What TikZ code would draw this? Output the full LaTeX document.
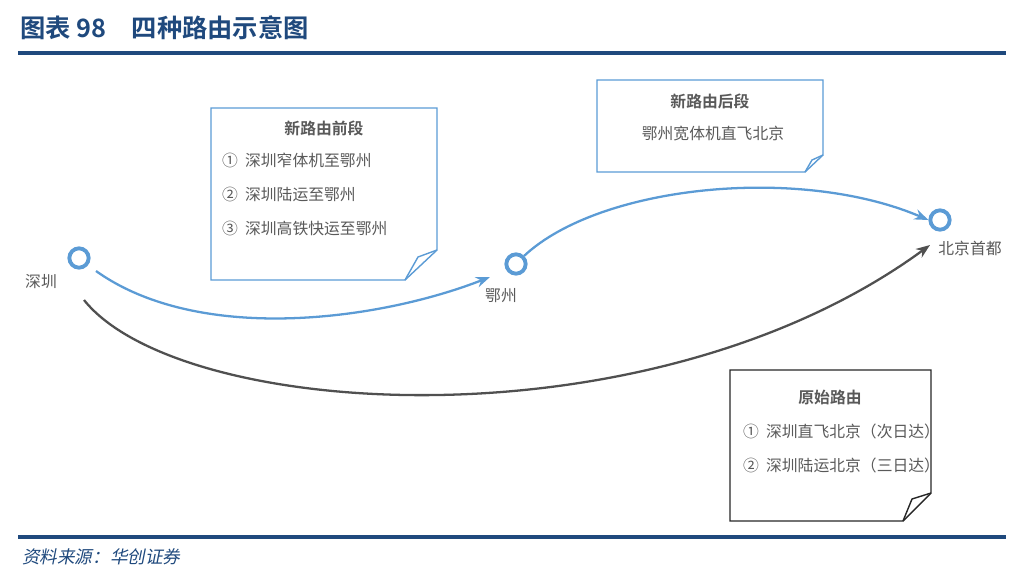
\documentclass[tikz,border=0pt]{standalone}
\usepackage{fontspec}
\setmainfont{Noto Sans CJK SC}
\newfontfamily\cjkbold{Noto Sans CJK SC Bold}
\newfontfamily\cjkslant[FakeSlant=0.2]{Noto Sans CJK SC}
\usetikzlibrary{arrows.meta}
\definecolor{myblue}{RGB}{91,155,213}
\definecolor{mynavy}{RGB}{31,73,125}
\definecolor{mygray}{RGB}{80,80,80}
\definecolor{mytext}{RGB}{89,89,89}

\tikzset{
    stopnode/.style={circle, draw=myblue, line width=2.2pt, minimum size=11pt, inner sep=0pt},
    city/.style={font=\small, text=mytext},
    line/.style={font=\small, text=mytext, anchor=west},
    head/.style={font=\small\cjkbold, text=mytext},
    route/.style={line width=1.3pt, -{Stealth[length=8pt,width=6pt]}},
}

\begin{document}
\begin{tikzpicture}[x=0.02cm, y=-0.02cm]
    \useasboundingbox (0, 0) rectangle (1024, 586);
    % title and rules
    \node[anchor=west, text=mynavy, font=\Large\cjkbold] (title) at (14, 28) {图表 98\quad 四种路由示意图};
    \draw[mynavy, line width=2pt] (18, 53) -- (1006, 53);
    \draw[mynavy, line width=2pt] (18, 537) -- (1006, 537);
    \node[anchor=west, text=mynavy, font=\cjkslant] (src) at (16, 557) {资料来源：华创证券};
    % notes
    \begin{scope}[draw=myblue, line width=0.8pt]
        \draw (211, 108) -- (437, 108) -- (437, 250) -- (405, 280) -- (211, 280) -- cycle;
        \draw (437, 250) -- (418, 257) -- (405, 280);
        \draw (597, 80) -- (823, 80) -- (823, 155) -- (805, 172) -- (597, 172) -- cycle;
        \draw (823, 155) -- (812, 160) -- (805, 172);
    \end{scope}
    \begin{scope}[draw=black!85, line width=0.8pt]
        \draw (730, 370) -- (931, 370) -- (931, 493) -- (903, 521) -- (730, 521) -- cycle;
        \draw (931, 493) -- (912, 499) -- (903, 521);
    \end{scope}
    \node[head] (h1) at (324, 128) {新路由前段};
    \node[line] (a1) at (216, 160) {①\ \ 深圳窄体机至鄂州};
    \node[line] (a2) at (216, 194) {②\ \ 深圳陆运至鄂州};
    \node[line] (a3) at (216, 228) {③\ \ 深圳高铁快运至鄂州};
    \node[head] (h2) at (710, 101) {新路由后段};
    \node[city] (b1) at (713, 134) {鄂州宽体机直飞北京};
    \node[head] (h3) at (830, 397) {原始路由};
    \node[line] (c1) at (737, 431) {①\ \ 深圳直飞北京（次日达）};
    \node[line] (c2) at (737, 465) {②\ \ 深圳陆运北京（三日达）};
    % stops
    \node[stopnode] (sz) at (79, 258) {};
    \node[stopnode] (ez) at (516, 264) {};
    \node[stopnode] (bj) at (940, 220) {};
    \node[city] (szl) at (41, 282) {深圳};
    \node[city] (ezl) at (501, 296) {鄂州};
    \node[city] (bjl) at (970, 248) {北京首都};
    % routes
    \coordinate (szo) at (96, 271);
    \coordinate (szd) at (84, 300);
    \coordinate (ezi) at (490, 277);
    \coordinate (bjd) at (930, 245);
    \draw[route, myblue] (szo) .. controls (200, 345) and (380, 320) .. (ezi);
    \draw[route, myblue] (ez.north east) .. controls (600, 185) and (800, 165) .. (bj.west);
    \draw[route, mygray] (szd) .. controls (180, 420) and (650, 450) .. (bjd);
\end{tikzpicture}
\end{document}
